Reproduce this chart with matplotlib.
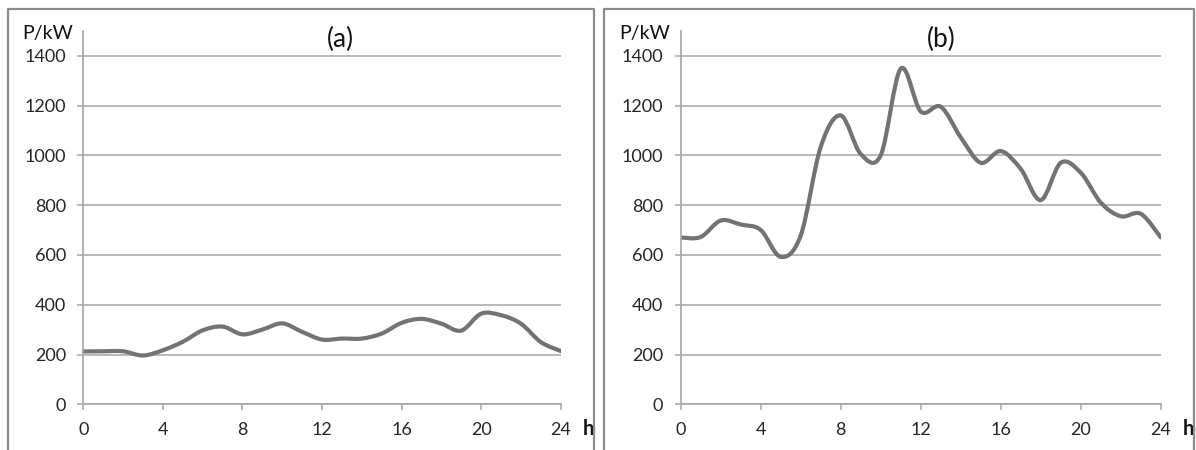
#!/usr/bin/env python3
"""Daily load curves P/kW over 24 h, panels (a) and (b)."""

import matplotlib
matplotlib.use("Agg")
import matplotlib.pyplot as plt
from matplotlib.lines import Line2D
from matplotlib.path import Path
from matplotlib.patches import PathPatch

HOURS = list(range(25))
LOAD_A = [212, 213, 213, 196, 217, 251, 297, 312, 281, 300, 325, 291, 260,
          264, 264, 284, 327, 343, 324, 296, 364, 358, 324, 250, 214]
LOAD_B = [670, 672, 738, 722, 700, 592, 678, 1034, 1160, 1005, 1000, 1348, 1176,
          1195, 1072, 970, 1017, 945, 820, 970, 930, 810, 755, 765, 670]
PANEL_TITLES = ["(a)", "(b)"]
X_TICKS = [0, 4, 8, 12, 16, 20, 24]
Y_TICKS = [0, 200, 400, 600, 800, 1000, 1200, 1400]

LINE_COLOR = "#737373"
GRID_COLOR = "#a6a6a6"
TEXT_COLOR = "#262626"
FRAME_COLOR = "#8c8c8c"

plt.rcParams["font.family"] = ["Lato", "DejaVu Sans"]

W, H = 1196, 450


def smooth_path(xs, ys):
    # Excel-style smoothed line: cubic Bezier segments through every point
    n = len(xs)
    verts = [(xs[0], ys[0])]
    codes = [Path.MOVETO]
    for i in range(n - 1):
        p0 = max(i - 1, 0)
        p3 = min(i + 2, n - 1)
        c1 = (xs[i] + (xs[i + 1] - xs[p0]) / 6, ys[i] + (ys[i + 1] - ys[p0]) / 6)
        c2 = (xs[i + 1] - (xs[p3] - xs[i]) / 6, ys[i + 1] - (ys[p3] - ys[i]) / 6)
        verts += [c1, c2, (xs[i + 1], ys[i + 1])]
        codes += [Path.CURVE4] * 3
    return Path(verts, codes)


def style_axis(ax):
    ax.set_xlim(0, 24)
    ax.set_ylim(0, 1500)
    ax.set_xticks(X_TICKS)
    ax.set_yticks(Y_TICKS)
    for side in ("top", "right"):
        ax.spines[side].set_visible(False)
    for side in ("left", "bottom"):
        ax.spines[side].set_color(GRID_COLOR)
        ax.spines[side].set_linewidth(1.2)
    ax.yaxis.grid(True, color=GRID_COLOR, linewidth=1.1)
    ax.set_axisbelow(True)
    ax.tick_params(axis="both", direction="out", length=4.5, width=1.1,
                   color=GRID_COLOR, labelcolor=TEXT_COLOR, labelsize=13)
    ax.tick_params(axis="y", pad=8)
    ax.tick_params(axis="x", pad=8)


fig = plt.figure(figsize=(W / 100, H / 100), dpi=100)

panels = [
    (LOAD_A, 83.3, 477.4, 7.5, 594.3, 22.7, 340),
    (LOAD_B, 680.7, 480.1, 604.0, 1193.7, 619.0, 941),
]
for (load, ax_left, ax_width, fr_left, fr_right, lab_x, title_x), title in zip(panels, PANEL_TITLES):
    ax = fig.add_axes([ax_left / W, 1 - 404.3 / H, ax_width / W, (404.3 - 30.8) / H])
    style_axis(ax)
    patch = PathPatch(smooth_path(HOURS, load), facecolor="none",
                      edgecolor=LINE_COLOR, linewidth=3.0, capstyle="round",
                      joinstyle="round")
    ax.add_patch(patch)

    fig.text(title_x / W, 1 - 39 / H, title, ha="center", va="center",
             fontsize=19, color="#111111")
    fig.text(lab_x / W, 1 - 33.7 / H, "P/kW", ha="left", va="center",
             fontsize=14, color="#111111")
    ax.annotate("h", xy=(1, 0), xycoords="axes fraction", xytext=(16, -18),
                textcoords="offset points", ha="left", va="center",
                fontsize=14.5, fontweight="bold", color="#111111")

    x0, x1 = fr_left / W, fr_right / W
    ytop = 1 - 9.3 / H
    fig.add_artist(Line2D([x0, x0, x1, x1], [-0.05, ytop, ytop, -0.05],
                          transform=fig.transFigure, color=FRAME_COLOR,
                          linewidth=1.6))

fig.savefig("out.png", dpi=100)
